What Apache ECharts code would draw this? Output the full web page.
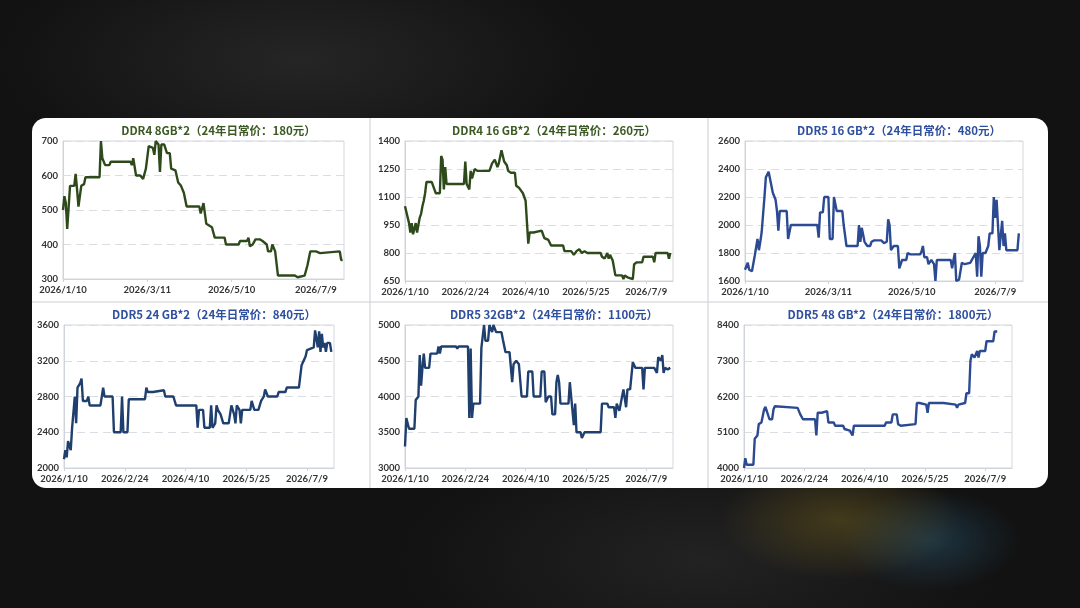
<!DOCTYPE html>
<html>
<head>
<meta charset="utf-8">
<script src="https://cdn.jsdelivr.net/npm/echarts@6/dist/echarts.min.js"></script>
<style>
  html, body { margin: 0; padding: 0; width: 1080px; height: 608px; overflow: hidden; }
  body {
    background:
      radial-gradient(ellipse 120px 60px at 840px 520px, rgba(120,100,30,0.45), transparent),
      radial-gradient(ellipse 90px 50px at 930px 540px, rgba(40,90,120,0.45), transparent),
      radial-gradient(ellipse 300px 120px at 300px 60px, rgba(50,50,50,0.6), transparent),
      radial-gradient(ellipse 300px 120px at 700px 560px, rgba(45,45,45,0.6), transparent),
      #121212;
  }
  #card { position: absolute; left: 32px; top: 118px; width: 1016px; height: 370px; background: #fff; border-radius: 14px; }
  #chart { position: absolute; left: 0; top: 0; width: 1080px; height: 608px; }
</style>
</head>
<body>
<div id="card"></div>
<div id="chart"></div>
<script>
// day index: 0 = 2026/1/10
const titles = [
  'DDR4 8GB*2（24年日常价：180元）',
  'DDR4 16 GB*2（24年日常价：260元）',
  'DDR5 16 GB*2（24年日常价：480元）',
  'DDR5 24 GB*2（24年日常价：840元）',
  'DDR5 32GB*2（24年日常价：1100元）',
  'DDR5 48 GB*2（24年日常价：1800元）'
];
const yMin = [300, 650, 1600, 2000, 3000, 4000];
const yMax = [700, 1400, 2600, 3600, 5000, 8400];
const yStep = [100, 150, 200, 400, 500, 1100];
const xStep = [60, 45, 60, 45, 45, 45];

const ddr4_8 = [[0,500],[1,540],[2,520],[3,445],[5,570],[8,570],[9,605],[10,560],[11,510],[13,570],[15,575],[16,595],[26,595],[27,700],[28,650],[30,630],[33,630],[34,640],[48,640],[49,630],[50,650],[52,600],[55,600],[57,590],[58,590],[59,620],[61,685],[64,680],[65,660],[66,700],[68,690],[69,610],[70,690],[72,690],[74,665],[76,665],[77,620],[80,615],[82,580],[84,570],[86,550],[88,510],[97,510],[98,490],[100,520],[102,460],[106,450],[108,420],[115,420],[116,400],[125,400],[126,410],[131,410],[132,420],[133,395],[135,400],[137,415],[140,415],[142,410],[145,400],[146,380],[148,380],[149,400],[151,380],[153,310],[165,310],[167,305],[168,310],[172,310],[174,340],[175,345],[176,380],[180,380],[181,375],[183,375],[184,380],[197,380],[198,355],[199,355]];
const ddr4_16 = [[0,1050],[3,960],[4,910],[5,960],[6,900],[8,960],[9,910],[11,990],[12,1010],[13,1050],[14,1080],[15,1120],[16,1180],[20,1180],[21,1160],[22,1140],[23,1120],[26,1120],[27,1320],[28,1300],[29,1140],[30,1260],[31,1170],[44,1170],[45,1290],[46,1170],[48,1140],[49,1240],[50,1200],[52,1250],[54,1240],[63,1240],[65,1280],[67,1300],[69,1260],[70,1280],[72,1350],[74,1290],[76,1270],[77,1240],[79,1230],[82,1230],[83,1160],[85,1150],[86,1160],[88,1120],[90,1080],[91,1080],[92,850],[93,910],[96,910],[97,920],[102,920],[104,880],[107,870],[109,840],[118,840],[119,810],[124,810],[126,790],[128,810],[130,820],[132,800],[134,810],[136,800],[146,800],[147,780],[149,770],[151,800],[152,770],[153,790],[155,760],[157,680],[162,680],[163,660],[164,680],[166,670],[167,660],[170,660],[171,740],[173,750],[177,750],[178,780],[185,780],[186,750],[187,800],[196,800],[197,770],[198,800]];
const ddr5_16 = [[0,1680],[2,1730],[3,1680],[5,1670],[6,1680],[7,1780],[9,1900],[10,1820],[11,1880],[12,1950],[14,2200],[15,2340],[16,2340],[17,2380],[18,2380],[20,2230],[22,2180],[23,2100],[24,1960],[25,2100],[30,2100],[31,1900],[32,1900],[33,2000],[52,2000],[53,1910],[54,2090],[56,2090],[57,2200],[60,2200],[61,1900],[63,1900],[64,2200],[66,2100],[70,2100],[71,2000],[72,2000],[73,1850],[81,1850],[82,2000],[83,1880],[84,1980],[86,1880],[88,1850],[90,1850],[91,1880],[93,1890],[98,1890],[100,1870],[102,1880],[103,2040],[104,2000],[105,1820],[107,1850],[110,1850],[111,1690],[113,1750],[116,1750],[117,1800],[119,1790],[126,1790],[127,1810],[128,1850],[129,1770],[131,1770],[132,1720],[134,1750],[136,1720],[137,1600],[138,1750],[148,1750],[149,1690],[150,1750],[151,1800],[152,1600],[154,1610],[156,1730],[158,1720],[162,1730],[166,1800],[167,1630],[168,1920],[169,1850],[170,1630],[171,1800],[173,1800],[175,1850],[176,1940],[178,1940],[179,2200],[180,2050],[181,2180],[183,1820],[184,1820],[185,2030],[186,1850],[187,1940],[188,1820],[196,1820],[197,1940]];
const ddr5_24 = [[0,2100],[1,2200],[2,2120],[3,2300],[5,2200],[6,2450],[7,2450],[8,2800],[9,2500],[10,2900],[12,2950],[13,3000],[14,2750],[17,2750],[18,2800],[19,2700],[27,2700],[29,2900],[30,2800],[36,2800],[37,2400],[42,2400],[43,2800],[44,2400],[47,2400],[48,2770],[60,2770],[61,2900],[62,2850],[66,2850],[74,2870],[75,2800],[81,2800],[83,2700],[98,2700],[99,2450],[100,2650],[103,2650],[104,2450],[108,2450],[109,2700],[110,2450],[112,2500],[113,2700],[114,2650],[116,2600],[118,2500],[122,2500],[124,2700],[126,2600],[127,2500],[128,2700],[130,2650],[131,2500],[132,2650],[138,2650],[139,2750],[141,2650],[144,2650],[146,2750],[148,2800],[149,2880],[151,2800],[158,2800],[159,2850],[164,2850],[165,2900],[174,2900],[176,3150],[179,3250],[180,3320],[185,3350],[186,3540],[188,3350],[189,3530],[190,3300],[191,3500],[192,3350],[193,3400],[194,3300],[195,3400],[197,3400],[198,3300]];
const ddr5_32 = [[0,3300],[1,3700],[3,3550],[7,3550],[8,3950],[10,4000],[11,4580],[12,4150],[13,4400],[14,4600],[15,4400],[18,4400],[19,4600],[24,4600],[25,4700],[26,4600],[27,4700],[38,4700],[39,4670],[40,4700],[47,4700],[48,3700],[49,4670],[50,3700],[51,3900],[56,3900],[57,4680],[58,4700],[59,5000],[60,4780],[62,4780],[63,5000],[65,4900],[66,5000],[68,4900],[72,4900],[73,4800],[75,4620],[78,4620],[80,4200],[81,4450],[83,4500],[85,4450],[87,4000],[91,4000],[92,4350],[95,4350],[96,4000],[101,4000],[102,4350],[104,4350],[105,3920],[107,4000],[109,4000],[110,3750],[112,3750],[113,4200],[114,4300],[115,4200],[116,3900],[122,3900],[123,4200],[124,4000],[126,3600],[127,3900],[128,3500],[131,3500],[132,3420],[134,3500],[146,3500],[147,3900],[151,3900],[152,3850],[156,3850],[157,3700],[158,3900],[160,3800],[163,4100],[165,3850],[166,4100],[168,4100],[170,4480],[172,4400],[177,4400],[178,4100],[179,4400],[186,4400],[188,4330],[189,4550],[191,4500],[192,4580],[193,4330],[194,4400],[196,4380],[198,4400]];
const ddr5_48 = [[0,4000],[1,4300],[2,4100],[7,4100],[8,4900],[10,5000],[11,5350],[13,5400],[15,5800],[16,5880],[19,5500],[21,5500],[22,5800],[23,5900],[24,5850],[40,5850],[42,5650],[44,5500],[53,5500],[54,5000],[55,5700],[58,5700],[59,5650],[62,5750],[63,5400],[67,5400],[68,5300],[74,5300],[75,5200],[79,5150],[81,5000],[82,5300],[105,5300],[106,5400],[110,5400],[111,5650],[114,5650],[115,5350],[116,5350],[117,5300],[118,5350],[128,5350],[129,6000],[131,6000],[132,5950],[136,5950],[137,5700],[138,6000],[149,6000],[150,5950],[158,5950],[159,5850],[160,5950],[165,6000],[166,6300],[168,6300],[169,7300],[170,7500],[172,7400],[173,7500],[174,7600],[175,7400],[176,7600],[180,7600],[181,7900],[186,7900],[187,8200],[189,8200]];
const seriesData = [ddr4_8, ddr4_16, ddr5_16, ddr5_24, ddr5_32, ddr5_48];

const lineColors = ['#2e4a1b', '#2e4a1b', '#2b4a92', '#1f3f6e', '#1f3f6e', '#2b4a92'];
const titleColors = ['#3b5a22', '#3b5a22', '#2f4f9f', '#2f4f9f', '#2f4f9f', '#2f4f9f'];

// panel plot boxes [left, top, right, bottom] in page px
const boxes = [
  [63, 141, 344, 279], [405, 141, 673, 281], [745, 141, 1023, 281],
  [64, 325, 334, 468], [405, 325, 673, 468], [744, 325, 1012, 468]
];

function dayLabel(v) {
  const d = new Date(Date.UTC(2026, 0, 10) + v * 86400000);
  return d.getUTCFullYear() + '/' + (d.getUTCMonth() + 1) + '/' + d.getUTCDate();
}

const chart = echarts.init(document.getElementById('chart'));
const grid = [], xAxis = [], yAxis = [], series = [], title = [];
boxes.forEach((b, i) => {
  grid.push({ left: b[0], top: b[1], width: b[2] - b[0], height: b[3] - b[1],
    show: true, borderColor: '#d3d7de', borderWidth: 1 });
  title.push({ text: titles[i], left: (b[0] + b[2]) / 2 + 10, top: b[1] - 21, textAlign: 'center',
    textStyle: { fontSize: 11.5, fontWeight: 'bold', color: titleColors[i], fontFamily: 'Noto Sans CJK SC' } });
  xAxis.push({ type: 'value', gridIndex: i, min: 0, max: 200, interval: xStep[i],
    axisLine: { show: true, lineStyle: { color: '#cfd4dc' } },
    axisTick: { show: true, length: 3, lineStyle: { color: '#cfd4dc' } },
    splitLine: { show: false },
    axisLabel: { showMaxLabel: false, formatter: dayLabel, fontSize: 9.5, fontWeight: 'bold', color: '#333', margin: 6,
      fontFamily: 'Lato' } });
  yAxis.push({ type: 'value', gridIndex: i, min: yMin[i], max: yMax[i], interval: yStep[i],
    axisLine: { show: true, lineStyle: { color: '#cfd4dc' } }, axisTick: { show: false },
    splitLine: { lineStyle: { color: '#dadde2', type: [8, 5], width: 1 } },
    axisLabel: { formatter: v => String(v), fontSize: 9.5, fontWeight: 'bold', color: '#333', margin: 5, fontFamily: 'Lato' } });
  series.push({ type: 'line', xAxisIndex: i, yAxisIndex: i, data: seriesData[i], showSymbol: false,
    lineStyle: { color: lineColors[i], width: 2.4 }, animation: false });
});

chart.setOption({
  animation: false,
  title, grid, xAxis, yAxis, series,
  graphic: [
    { type: 'line', shape: { x1: 370, y1: 118, x2: 370, y2: 488 }, style: { stroke: '#c9cdd3', lineWidth: 1 } },
    { type: 'line', shape: { x1: 708, y1: 118, x2: 708, y2: 488 }, style: { stroke: '#c9cdd3', lineWidth: 1 } },
    { type: 'line', shape: { x1: 32, y1: 302, x2: 1048, y2: 302 }, style: { stroke: '#c9cdd3', lineWidth: 1 } }
  ]
});
</script>
</body>
</html>
